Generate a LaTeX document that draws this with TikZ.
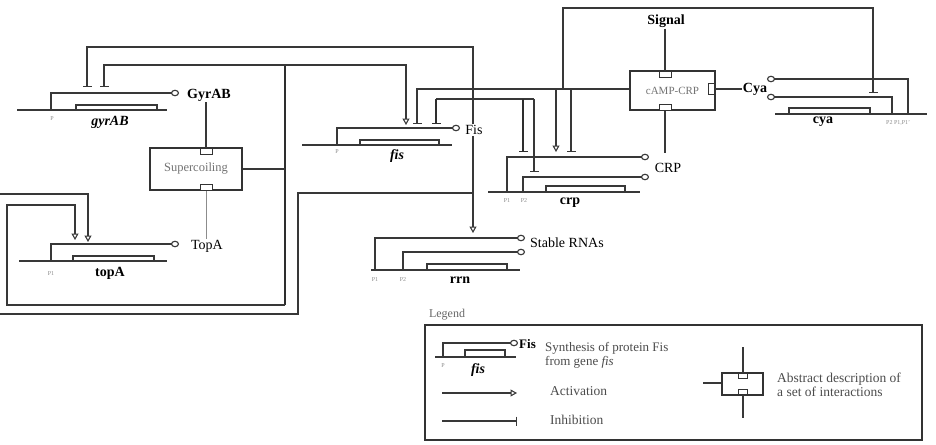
\documentclass[tikz,border=0pt]{standalone}
\usepackage{fontspec}
\setmainfont{Liberation Serif}
\usetikzlibrary{arrows.meta}
\begin{document}
\begin{tikzpicture}[x=1pt,y=-1pt,
  wire/.style={line width=1.3pt,draw=black!78},
  heavywire/.style={line width=2.6pt,draw=black!82},
  faintwire/.style={line width=0.7pt,draw=black!45},
  actarr/.style={-{Triangle[open,length=6.5pt,width=7pt,line width=1.1pt]}},
  inharr/.style={-{Bar[width=9pt,line width=1.4pt]}},
  prodarr/.style={-{Circle[open,length=8pt,width=6.5pt,line width=1.1pt]}},
  dna/.style={line width=1.3pt,draw=black!78},
  lbl/.style={font=\fontsize{14}{16}\selectfont,inner sep=1pt},
  blbl/.style={font=\fontsize{14}{16}\selectfont\bfseries,inner sep=1pt},
  glbl/.style={font=\fontsize{14}{16}\selectfont\bfseries,inner sep=1pt},
  gilbl/.style={font=\fontsize{14}{16}\selectfont\bfseries\itshape,inner sep=1pt},
  plbl/.style={font=\fontsize{6}{7}\selectfont,text=black!45,inner sep=0pt},
  legtxt/.style={font=\fontsize{13.5}{14}\selectfont,text=black!70,inner sep=0pt,align=left,anchor=west},
  module/.style={draw=black!80,line width=1.2pt,rectangle,text=black!55,inner sep=0pt},
  port/.style={draw=black!80,line width=1pt,fill=white,minimum width=12pt,minimum height=6pt,inner sep=0pt},
  vport/.style={draw=black!80,line width=1pt,fill=white,minimum width=6pt,minimum height=11pt,inner sep=0pt},
]
\useasboundingbox[fill=white] (0,0) rectangle (936,444);

% ---------- modules ----------
\node[module,minimum width=92pt,minimum height=42pt,font=\fontsize{12.5}{14}\selectfont] (sc) at (196,169) {Supercoiling};
\node[port] (scT) at (206,151) {};
\node[port] (scB) at (206,187) {};

\node[module,minimum width=85pt,minimum height=39pt,font=\fontsize{11}{12}\selectfont] (camp) at (672.5,90.5) {cAMP-CRP};
\node[port] (campT) at (665,74) {};
\node[port] (campB) at (665,107) {};
\node[vport] (campR) at (711,89) {};

% ---------- protein / signal labels ----------
\node[blbl] (sig) at (666,21) {Signal};
\node[blbl] (cyaP) at (755,89) {Cya};
\node[lbl] (crpP) at (668,168) {CRP};
\node[blbl] (gyrP) at (209,95) {GyrAB};
\node[lbl] (topP) at (207,246) {TopA};
\node[lbl] (fisP) at (474,130) {Fis};
\node[lbl,anchor=west] (rnaP) at (529,243) {Stable RNAs};

\draw[wire] (sig.south -| campT) -- (campT.north);
\draw[wire] (campR.east) -- (cyaP.west);
\draw[wire] (campB.south) -- (665,153);
\draw[wire] (scT.north) -- (scT.north |- gyrP.south);
\draw[faintwire] (scB.south) -- (scB.south |- topP.north);

% ---------- gyrAB ----------
\draw[dna] (17,110) -- (167,110);
\draw[dna] (76,110) |- (157,105) -- (157,110);
\draw[wire,prodarr] (51,110) |- (179,93);
\node[plbl] (pgyr) at (52,119) {P};
\node[gilbl] (ggyr) at (110,122) {gyrAB};

% ---------- topA ----------
\draw[dna] (19,261) -- (167,261);
\draw[dna] (73,261) |- (154,256) -- (154,261);
\draw[wire,prodarr] (51,261) |- (179,244);
\node[plbl] (ptop) at (51,274) {P1};
\node[glbl] (gtop) at (110,273) {topA};

% ---------- fis ----------
\draw[dna] (302,145) -- (452,145);
\draw[dna] (360,145) |- (439,140) -- (439,145);
\draw[wire,prodarr] (337,145) |- (460,128);
\node[plbl] (pfis) at (337,152) {P};
\node[gilbl] (gfis) at (397,156) {fis};

% ---------- crp ----------
\draw[dna] (488,192) -- (640,192);
\draw[dna] (546,192) |- (625,186) -- (625,192);
\draw[wire,prodarr] (507,192) |- (649,157);
\draw[wire,prodarr] (523,192) |- (649,177);
\node[plbl] (pcrp1) at (507,201) {P1};
\node[plbl] (pcrp2) at (524,201) {P2};
\node[glbl] (gcrp) at (570,203) {crp};

% ---------- cya ----------
\draw[dna] (775,114) -- (927,114);
\draw[dna] (789,114) |- (870,108) -- (870,114);
\draw[wire,prodarr] (892,114) |- (767,97);
\draw[wire,prodarr] (908,114) |- (767,79);
\node[plbl,anchor=west] (pcya) at (886,123) {P2 P1,P1'};
\node[glbl] (gcya) at (823,122) {cya};

% ---------- rrn ----------
\draw[dna] (371,270) -- (520,270);
\draw[dna] (427,270) |- (507,264) -- (507,270);
\draw[wire,prodarr] (375,270) |- (525,238);
\draw[wire,prodarr] (403,270) |- (525,252);
\node[plbl] (prrn1) at (375,280) {P1};
\node[plbl] (prrn2) at (403,280) {P2};
\node[glbl] (grrn) at (460,280) {rrn};

% ---------- Fis regulation ----------
\draw[wire,inharr] (fisP.north -| 473,0) -- (473,47) -| (87,87);
\draw[wire] (436,99) -- (534,99);
\draw[heavywire,inharr] (436,99) -- (436,124);
\draw[heavywire,inharr] (523,99) -- (523,152);
\draw[wire,inharr] (534,99) -- (534,172);
\draw[wire,actarr] (fisP.south -| 473,0) -- (473,233);
\draw[wire] (473,193) -| (298,314) -- (0,314);
\draw[wire,actarr] (0,194) -| (88,242);

% ---------- Supercoiling regulation ----------
\draw[heavywire] (285,65) -- (285,305);
\draw[wire] (sc.east) -- (285,169);
\draw[wire,inharr] (285,65) -| (104,87);
\draw[wire,actarr] (285,65) -| (406,125);
\draw[wire,actarr] (285,305) -| (7,205) -| (75,240);

% ---------- cAMP-CRP regulation ----------
\draw[wire,inharr] (camp.west |- 0,89) -| (417,124);
\draw[wire,actarr] (556,89) -- (556,152);
\draw[wire,inharr] (571,89) -- (571,152);
\draw[wire,inharr] (563,89) |- (873,8) -- (873,93);

% ---------- legend ----------
\node[font=\fontsize{12}{13}\selectfont,text=black!60] (legT) at (447,315) {Legend};
\draw[line width=1.3pt,draw=black!80] (425,325) rectangle (922,440);
\draw[dna] (435,357) -- (516,357);
\draw[dna] (465,357) |- (505,350) -- (505,357);
\draw[wire,prodarr] (443,357) |- (518,343);
\node[blbl,font=\fontsize{13}{14}\selectfont\bfseries,anchor=west] (legFis) at (518,344) {Fis};
\node[plbl] (legP) at (443,366) {P};
\node[gilbl] (legfis) at (478,370) {fis};
\node[legtxt,font=\fontsize{13}{14}\selectfont] (legSyn) at (545,355) {Synthesis of protein Fis\\from gene \textit{fis}};
\draw[wire,actarr] (442,393) -- (517,393);
\node[legtxt] (legAct) at (550,391) {Activation};
\draw[wire,inharr] (442,421) -- (517,421);
\node[legtxt] (legInh) at (550,420) {Inhibition};
\node[draw=black!80,line width=1.2pt,minimum width=41pt,minimum height=22pt,inner sep=0pt] (abs) at (742.5,384) {};
\node[port,minimum width=9pt,minimum height=5pt] (absT) at (743,376) {};
\node[port,minimum width=9pt,minimum height=5pt] (absB) at (743,392) {};
\draw[wire] (absT.north) -- (743,347);
\draw[wire] (absB.south) -- (743,418);
\draw[wire] (703,383) -- (abs.west |- 0,383);
\node[legtxt] (legAbs) at (777,385) {Abstract description of\\a set of interactions};
\end{tikzpicture}
\end{document}
